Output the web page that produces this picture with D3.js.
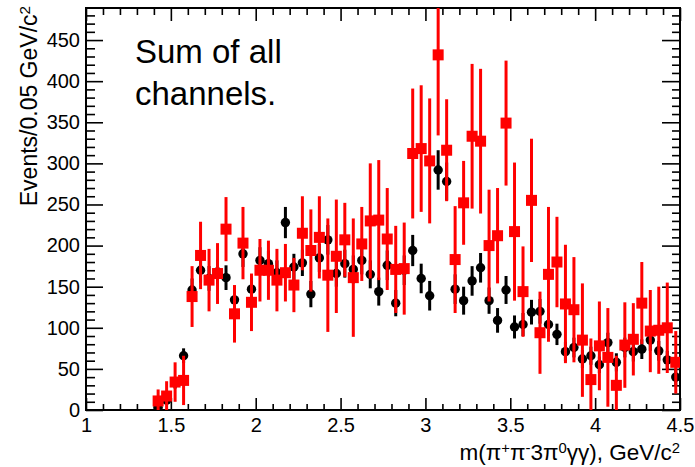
<!DOCTYPE html>
<html>
<head>
<meta charset="utf-8">
<script src="https://cdn.jsdelivr.net/npm/d3@7"></script>
<style>
	body { margin: 0; background: #fff; }
	svg { display: block; font-family: "Liberation Sans", Arial, Helvetica, sans-serif; }
</style>
</head>
<body>
<div id="chart"></div>
<script>

// bin centres, GeV/c^2 (0.05 GeV bins)
var mass = [1.425, 1.475, 1.525, 1.575, 1.625, 1.675, 1.725, 1.775, 1.825, 1.875,
	1.925, 1.975, 2.025, 2.075, 2.125, 2.175, 2.225, 2.275, 2.325, 2.375,
	2.425, 2.475, 2.525, 2.575, 2.625, 2.675, 2.725, 2.775, 2.825, 2.875,
	2.925, 2.975, 3.025, 3.075, 3.125, 3.175, 3.225, 3.275, 3.325, 3.375,
	3.425, 3.475, 3.525, 3.575, 3.625, 3.675, 3.725, 3.775, 3.825, 3.875,
	3.925, 3.975, 4.025, 4.075, 4.125, 4.175, 4.225, 4.275, 4.325, 4.375,
	4.425, 4.475];

// black circles
var blackCounts = [3, 12, 33, 66, 146, 170, 160, 168, 161, 134,
	190, 147, 182, 178, 167, 228, 174, 179, 141, 185,
	207, 166, 178, 171, 182, 165, 144, 176, 130, 170,
	194, 160, 139, 292, 278, 147, 133, 157, 173, 133,
	109, 146, 101, 104, 119, 120, 104, 92, 71, 76,
	62, 66, 55, 82, 58, 76, 71, 74, 85, 72,
	61, 40];
var blackErrors = [3, 5, 7, 9, 14, 15, 15, 15, 15, 14,
	16, 14, 16, 16, 15, 19, 16, 16, 16, 17,
	18, 16, 17, 17, 17, 17, 17, 18, 16, 18,
	19, 18, 18, 24, 23, 18, 17, 18, 18, 16,
	15, 17, 14, 14, 15, 15, 14, 13, 12, 12,
	11, 11, 10, 12, 11, 12, 12, 12, 13, 12,
	11, 10];

// red squares
var redCounts = [11, 17, 34, 36, 138, 188, 158, 166, 220, 117,
	203, 131, 170, 170, 158, 167, 152, 215, 194, 210,
	164, 187, 207, 161, 202, 230, 231, 208, 171, 172,
	312, 318, 303, 432, 316, 183, 252, 333, 327, 200,
	212, 349, 217, 144, 255, 94, 165, 180, 129, 122,
	85, 37, 78, 64, 30, 79, 86, 130, 96, 97,
	100, 58];
var redErrors = [14, 18, 24, 30, 37, 41, 38, 37, 39, 35,
	44, 35, 38, 36, 38, 35, 33, 45, 50, 50,
	69, 69, 45, 72, 45, 70, 73, 62, 53, 56,
	79, 77, 76, 98, 62, 65, 51, 88, 88, 68,
	58, 76, 84, 55, 75, 50, 82, 55, 72, 64,
	69, 50, 54, 60, 36, 52, 44, 50, 50, 53,
	55, 38];

var xTicks = [1, 1.5, 2, 2.5, 3, 3.5, 4, 4.5];
var xTickLabels = ["1", "1.5", "2", "2.5", "3", "3.5", "4", "4.5"];
var yTicks = [0, 50, 100, 150, 200, 250, 300, 350, 400, 450];

var margin = {top: 8, right: 15, bottom: 57, left: 86},
	width = 695 - margin.left - margin.right,
	height = 467 - margin.top - margin.bottom;

var svg = d3.select("#chart").append("svg")
	.attr("width", width + margin.left + margin.right)
	.attr("height", height + margin.top + margin.bottom);

var g = svg.append("g")
	.attr("transform", "translate(" + margin.left + "," + margin.top + ")");

var x = d3.scaleLinear().domain([1, 4.5]).range([0, width]);
var y = d3.scaleLinear().domain([0, 489]).range([height, 0]);

// minor ticks every 0.1 / every 10, skipping the majors
var xMinor = d3.range(10, 46).map(function (d) { return d / 10; })
	.filter(function (d) { return Math.round(d * 10) % 5 != 0; });
var yMinor = d3.range(0, 490, 10).filter(function (d) { return d % 50 != 0; });

function styleAxis(sel) {
	sel.select(".domain").remove();
	sel.selectAll("line").attr("stroke", "#000").attr("stroke-width", 1.6);
	sel.selectAll("text").attr("font-size", 20).attr("fill", "#000")
		.attr("font-family", "\"Liberation Sans\", Arial, Helvetica, sans-serif");
}

// bottom axis
g.append("g")
	.attr("transform", "translate(0," + height + ")")
	.call(d3.axisBottom(x).tickValues(xTicks).tickSizeInner(-12).tickSizeOuter(0).tickPadding(8)
		.tickFormat(function (d, i) { return xTickLabels[i]; }))
	.call(styleAxis);
g.append("g")
	.attr("transform", "translate(0," + height + ")")
	.call(d3.axisBottom(x).tickValues(xMinor).tickSizeInner(-6).tickSizeOuter(0).tickFormat(""))
	.call(styleAxis);

// top axis (ticks only)
g.append("g")
	.call(d3.axisTop(x).tickValues(xTicks).tickSizeInner(-13).tickSizeOuter(0).tickFormat(""))
	.call(styleAxis);
g.append("g")
	.call(d3.axisTop(x).tickValues(xMinor).tickSizeInner(-7).tickSizeOuter(0).tickFormat(""))
	.call(styleAxis);

// left axis
g.append("g")
	.call(d3.axisLeft(y).tickValues(yTicks).tickSizeInner(-17).tickSizeOuter(0).tickPadding(6))
	.call(styleAxis);
g.append("g")
	.call(d3.axisLeft(y).tickValues(yMinor).tickSizeInner(-9).tickSizeOuter(0).tickFormat(""))
	.call(styleAxis);

// right axis (ticks only)
g.append("g")
	.attr("transform", "translate(" + width + ",0)")
	.call(d3.axisRight(y).tickValues(yTicks).tickSizeInner(-18).tickSizeOuter(0).tickFormat(""))
	.call(styleAxis);
g.append("g")
	.attr("transform", "translate(" + width + ",0)")
	.call(d3.axisRight(y).tickValues(yMinor).tickSizeInner(-8).tickSizeOuter(0).tickFormat(""))
	.call(styleAxis);

// frame
g.append("rect")
	.attr("width", width)
	.attr("height", height)
	.attr("fill", "none")
	.attr("stroke", "#000")
	.attr("stroke-width", 2);

// clip for the data
g.append("clipPath").attr("id", "plot-clip")
	.append("rect").attr("width", width).attr("height", height);

var plot = g.append("g").attr("clip-path", "url(#plot-clip)");

function drawSeries(counts, errors, color, marker) {
	var pts = mass.map(function (m, i) {
		return {m: m, v: counts[i], e: errors[i]};
	});
	var s = plot.append("g");

	s.selectAll("line.err")
		.data(pts)
		.enter().append("line")
		.attr("class", "err")
		.attr("x1", function (d) { return x(d.m); })
		.attr("x2", function (d) { return x(d.m); })
		.attr("y1", function (d) { return y(d.v - d.e); })
		.attr("y2", function (d) { return y(d.v + d.e); })
		.attr("stroke", color)
		.attr("stroke-width", 3);

	if (marker == "circle") {
		s.selectAll("circle")
			.data(pts)
			.enter().append("circle")
			.attr("cx", function (d) { return x(d.m); })
			.attr("cy", function (d) { return y(d.v); })
			.attr("r", 4.7)
			.attr("fill", color);
	} else {
		var sq = 11;
		s.selectAll("rect")
			.data(pts)
			.enter().append("rect")
			.attr("x", function (d) { return x(d.m) - sq / 2; })
			.attr("y", function (d) { return y(d.v) - sq / 2; })
			.attr("width", sq)
			.attr("height", sq)
			.attr("fill", color);
	}
}

drawSeries(blackCounts, blackErrors, "#000", "circle");
drawSeries(redCounts, redErrors, "#ff0000", "square");

// text with superscripts: parts = [[text, isSup], ...]
function richText(sel, parts) {
	var up = false;
	parts.forEach(function (p) {
		var t = sel.append("tspan").text(p[0]);
		if (p[1] && !up) {
			t.attr("dy", "-0.45em").attr("font-size", "0.66em");
			up = true;
		} else if (p[1]) {
			t.attr("font-size", "0.66em");
		} else if (up) {
			t.attr("dy", "0.297em");
			up = false;
		}
	});
}

// axis titles
var xTitle = svg.append("text")
	.attr("x", margin.left + width)
	.attr("y", 460)
	.attr("text-anchor", "end")
	.attr("font-size", 22.5);
richText(xTitle, [["m(\u03c0", false], ["+", true], ["\u03c0", false], ["-", true],
	["3\u03c0", false], ["0", true], ["\u03b3\u03b3), GeV/c", false], ["2", true]]);

var yTitle = svg.append("text")
	.attr("transform", "translate(37," + (margin.top - 2) + ") rotate(-90)")
	.attr("text-anchor", "end")
	.attr("font-size", 23);
richText(yTitle, [["Events/0.05 GeV/c", false], ["2", true]]);

// label inside the frame
var note = svg.append("text")
	.attr("font-size", 33)
	.attr("fill", "#000");
note.append("tspan").attr("x", 135).attr("y", 63).text("Sum of all");
note.append("tspan").attr("x", 135).attr("y", 105).text("channels.");

</script>
</body>
</html>
